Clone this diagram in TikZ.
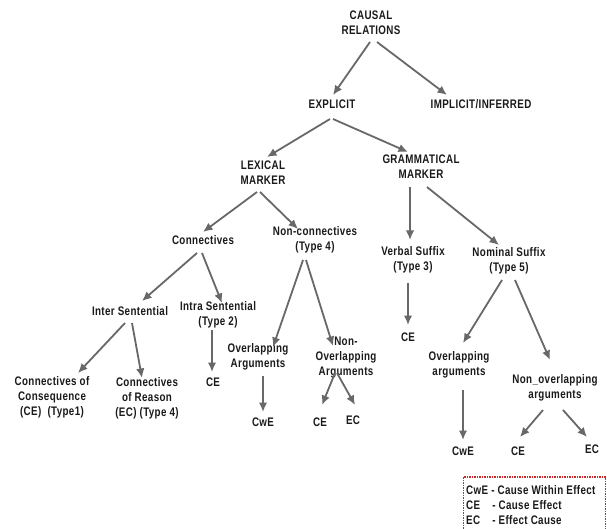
\documentclass[tikz,border=0pt]{standalone}
\usepackage{fontspec}
\setmainfont{Liberation Sans}[LetterSpace=3,FakeStretch=0.79]
\usetikzlibrary{arrows.meta,calc}
\definecolor{txt}{HTML}{1A1A1A}
\definecolor{edge}{HTML}{686868}
\definecolor{keyred}{HTML}{D02828}
\tikzset{
  lbl/.style={align=center,inner sep=0pt,text=txt,
    font=\fontsize{12.4}{15}\selectfont\bfseries},
  arr/.style={draw=edge,line width=1.8pt,
    -{Latex[length=9.5pt,width=8.5pt]}},
  keybox/.style={draw=keyred,line width=1.5pt,dash pattern=on 1.5pt off 1pt}
}
\begin{document}
\begin{tikzpicture}[x=1pt,y=-1pt]
\useasboundingbox[fill=white] (0,0) rectangle (607,529);

% tree nodes
\node[lbl] (causal)   at (371,23)  {CAUSAL\\RELATIONS};
\node[lbl] (explicit) at (332,104) {EXPLICIT};
\node[lbl] (implicit) at (481,104) {IMPLICIT/INFERRED};
\node[lbl] (lexical)  at (263,173) {LEXICAL\\MARKER};
\node[lbl] (gram)     at (421,167) {GRAMMATICAL\\MARKER};
\node[lbl] (conn)     at (203,240) {Connectives};
\node[lbl] (nonconn)  at (315,240) {Non-connectives\\(Type 4)};
\node[lbl] (verbal)   at (413,260) {Verbal Suffix\\(Type 3)};
\node[lbl] (nominal)  at (509,261) {Nominal Suffix\\(Type 5)};
\node[lbl] (inter)    at (130,311) {Inter Sentential};
\node[lbl] (intra)    at (218,315) {Intra Sentential\\(Type 2)};
\node[lbl] (overL)    at (258,357) {Overlapping\\Arguments};
\node[lbl] (nonoverL) at (346,358) {Non-\\Overlapping\\Arguments};
\node[lbl] (ceV)      at (408,337) {CE};
\node[lbl] (overR)    at (459,365) {Overlapping\\arguments};
\node[lbl] (nonoverR) at (555,388) {Non\_overlapping\\arguments};
\node[lbl] (conseq)   at (52,397)  {Connectives of\\Consequence\\(CE)\ \ (Type1)};
\node[lbl] (reason)   at (147,398) {Connectives\\of Reason\\(EC) (Type 4)};
\node[lbl] (ceI)      at (213,382) {CE};
\node[lbl] (cweL)     at (263,422) {CwE};
\node[lbl] (ceL)      at (320,422) {CE};
\node[lbl] (ecL)      at (353,420) {EC};
\node[lbl] (cweR)     at (463,451) {CwE};
\node[lbl] (ceR)      at (518,451) {CE};
\node[lbl] (ecR)      at (592,449) {EC};

% connectors
\draw[arr] ($(causal)+(-1,19)$)   -- ($(explicit)+(1,-9)$);
\draw[arr] ($(causal)+(6,19)$)    -- ($(implicit)+(-34,-9)$);
\draw[arr] ($(explicit)+(-2,15)$) -- ($(lexical)+(4,-16)$);
\draw[arr] ($(explicit)+(1,15)$)  -- ($(gram)+(-13,-15)$);
\draw[arr] ($(lexical)+(-6,19)$)  -- ($(conn)+(0,-8)$);
\draw[arr] ($(lexical)+(-3,19)$)  -- ($(nonconn)+(-17,-11)$);
\draw[arr] ($(gram)+(-11,20)$)    -- ($(verbal)+(-3,-20)$);
\draw[arr] ($(gram)+(6,20)$)      -- ($(nominal)+(-10,-16)$);
\draw[arr] ($(conn)+(-6,13)$)     -- ($(inter)+(12,-10)$);
\draw[arr] ($(conn)+(-1,13)$)     -- ($(intra)+(4,-12)$);
\draw[arr] ($(nonconn)+(-12,20)$) -- ($(overL)+(15,-10)$);
\draw[arr] ($(nonconn)+(-9,20)$)  -- ($(nonoverL)+(-13,-12)$);
\draw[arr] ($(verbal)+(-5,23)$)   -- ($(ceV)+(0,-12)$);
\draw[arr] ($(nominal)+(-7,19)$)  -- ($(overR)+(4,-22)$);
\draw[arr] ($(nominal)+(6,19)$)   -- ($(nonoverR)+(-5,-28)$);
\draw[arr] ($(inter)+(-5,12)$)    -- ($(conseq)+(26,-24)$);
\draw[arr] ($(inter)+(2,12)$)     -- ($(reason)+(-5,-20)$);
\draw[arr] ($(intra)+(-6,15)$)    -- ($(ceI)+(-1,-10)$);
\draw[arr] ($(overL)+(5,19)$)     -- ($(cweL)+(0,-10)$);
\draw[arr] ($(nonoverL)+(-11,15)$)-- ($(ceL)+(2,-17)$);
\draw[arr] ($(nonoverL)+(-9,15)$) -- ($(ecL)+(2,-15)$);
\draw[arr] ($(overR)+(4,25)$)     -- ($(cweR)+(0,-11)$);
\draw[arr] ($(nonoverR)+(-12,22)$)-- ($(ceR)+(2,-14)$);
\draw[arr] ($(nonoverR)+(8,22)$)  -- ($(ecR)+(-5,-12)$);

% abbreviation key
\draw[keybox] (463.5,477) rectangle (605.5,536);
\node[lbl,anchor=west] (keyA) at (466,490) {CwE - Cause Within Effect};
\node[lbl,anchor=west] (keyB) at (466,505) {\rlap{CE}\phantom{CwE}\kern1pt\ - Cause Effect};
\node[lbl,anchor=west] (keyC) at (466,520) {\rlap{EC}\phantom{CwE}\kern1pt\ - Effect Cause};
\end{tikzpicture}
\end{document}
